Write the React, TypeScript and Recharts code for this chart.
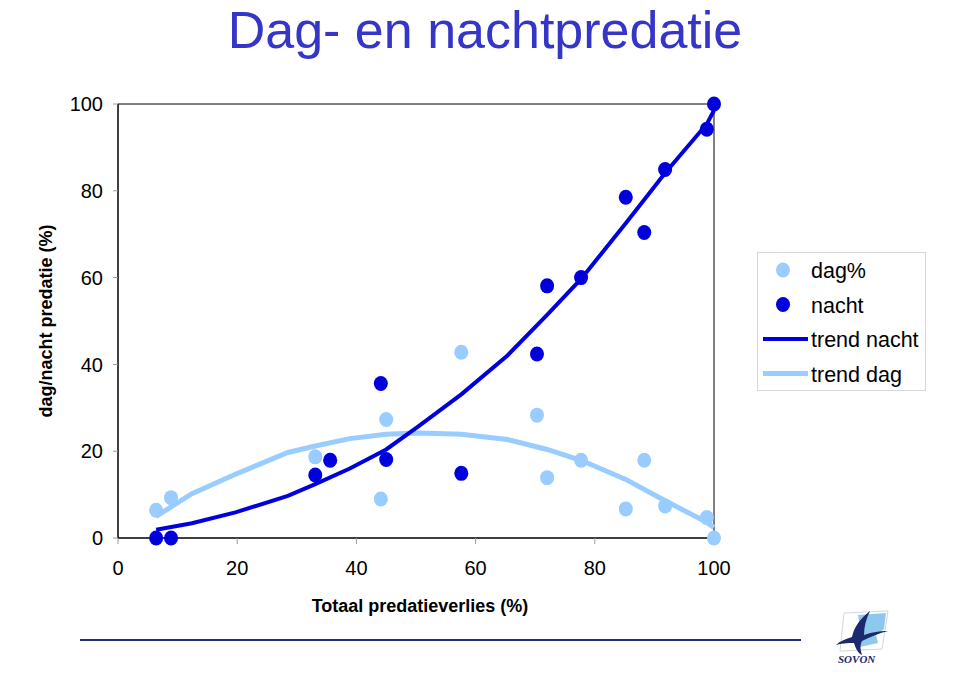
import {
  ComposedChart, Line, Scatter, XAxis, YAxis, ReferenceArea, Label,
} from 'recharts'

const DAG = '#99ccff'
const NACHT = '#0000dd'
const FONT = '"Liberation Sans", Arial, sans-serif'

// totaal predatieverlies per punt (%)
const totaal = [6.4, 8.9, 33.1, 35.6, 44.1, 45.0, 57.6, 70.3, 72.0, 77.7, 85.2, 88.3, 91.8, 98.8, 100]
const dagPct = [6.4, 9.3, 18.7, 17.9, 9.0, 27.3, 42.8, 28.3, 13.9, 17.9, 6.7, 17.9, 7.4, 4.7, 0]
const nachtPct = [0, 0, 14.5, 17.9, 35.6, 18.1, 14.9, 42.4, 58.1, 60.0, 78.5, 70.4, 84.9, 94.2, 100]

const trendX = [6.4, 12.4, 19.7, 28.5, 33.1, 38.9, 45.0, 50.4, 57.6, 65.3, 72.0, 77.7, 85.2, 91.8, 98.8, 100]
const trendNachtY = [1.9, 3.4, 5.9, 9.7, 12.4, 16.0, 20.4, 25.7, 33.1, 42.0, 51.4, 59.7, 72.5, 84.1, 95.4, 98.5]
const trendDagY = [5.0, 10.2, 14.7, 19.7, 21.2, 22.9, 23.9, 24.2, 23.9, 22.7, 20.4, 17.9, 13.5, 8.6, 3.6, 2.4]

const ticks = [0, 20, 40, 60, 80, 100]

const dagData = totaal.map((x, i) => ({ x, y: dagPct[i] }))
const nachtData = totaal.map((x, i) => ({ x, y: nachtPct[i] }))
const trendNacht = trendX.map((x, i) => ({ x, y: trendNachtY[i] }))
const trendDag = trendX.map((x, i) => ({ x, y: trendDagY[i] }))

const dot = (color: string) => (p: any) => (
  <ellipse cx={p.cx} cy={p.cy} rx={7} ry={7.5} fill={color} />
)

function LegendBox() {
  const rows = [
    { name: 'dag%', kind: 'dot', color: DAG },
    { name: 'nacht', kind: 'dot', color: NACHT },
    { name: 'trend nacht', kind: 'line', color: NACHT, w: 4 },
    { name: 'trend dag', kind: 'line', color: DAG, w: 5 },
  ]
  return (
    <svg width={169} height={139} style={{ position: 'absolute', left: 757, top: 252 }}>
      <rect x={0.5} y={0.5} width={168} height={138} fill="#fff" stroke="#d8d8d8" />
      {rows.map((r, i) => {
        const cy = 18 + i * 34.5
        return (
          <g key={r.name}>
            {r.kind === 'dot'
              ? <ellipse cx={26} cy={cy} rx={7} ry={7.5} fill={r.color} />
              : <line x1={6} x2={51} y1={cy} y2={cy} stroke={r.color} strokeWidth={r.w} />}
            <text x={54} y={cy + 8} fontSize={21.5} fontFamily={FONT} fill="#000">{r.name}</text>
          </g>
        )
      })}
    </svg>
  )
}

function Logo() {
  return (
    <svg width={70} height={70} style={{ position: 'absolute', left: 830, top: 605 }}>
      <path d="M14 8 L58 6 L52 44 L10 46 Z" fill="none" stroke="#cfd8e0" strokeWidth={1} />
      <path d="M28 10 L56 8 L54 24 L46 30 L48 38 L30 42 L24 30 L30 22 Z" fill="#8ec8ec" />
      <path d="M40 6 C30 14 24 22 22 32 C16 34 10 36 6 40 C14 38 20 38 24 38 C26 44 28 48 32 50 C30 44 30 40 32 36 C40 32 50 28 58 26 C48 26 40 28 34 30 C34 22 36 14 40 6 Z" fill="#1a2a6c" />
      <text x={8} y={58} fontSize={11} fontStyle="italic" fontWeight="bold" fontFamily="'Liberation Serif', serif" fill="#1a2a6c">SOVON</text>
    </svg>
  )
}

export default function App() {
  return (
    <div style={{ position: 'absolute', left: 0, top: 0, width: 960, height: 700, background: '#fff', fontFamily: FONT, overflow: 'hidden' }}>
      <div style={{ position: 'absolute', left: 10, top: 0, width: 950, textAlign: 'center', fontSize: 52, lineHeight: 'normal', color: '#3535c8' }}>
        Dag- en nachtpredatie
      </div>
      <ComposedChart width={960} height={700} margin={{ top: 104, right: 246, bottom: 122, left: 18 }}>
        <XAxis
          type="number" dataKey="x" domain={[0, 100]} ticks={ticks}
          axisLine={{ stroke: '#000' }} tickLine={{ stroke: '#999' }} tickSize={6} tickMargin={17}
          tick={{ fontSize: 20, fill: '#000', fontFamily: FONT }} height={40}
        >
          <Label content={() => (
            <text x={420} y={612} textAnchor="middle" fontSize={18} fontWeight="bold" fontFamily={FONT} fill="#000">
              Totaal predatieverlies (%)
            </text>
          )} />
        </XAxis>
        <YAxis
          type="number" dataKey="y" domain={[0, 100]} ticks={ticks}
          axisLine={{ stroke: '#000' }} tickLine={{ stroke: '#999' }} tickSize={5} tickMargin={10}
          tick={{ fontSize: 20, fill: '#000', fontFamily: FONT }} width={100}
        >
          <Label content={() => (
            <text x={52} y={321} transform="rotate(-90 52 321)" textAnchor="middle" fontSize={18} fontWeight="bold" fontFamily={FONT} fill="#000">
              dag/nacht predatie (%)
            </text>
          )} />
        </YAxis>
        <ReferenceArea x1={0} x2={100} y1={0} y2={100} fill="none" stroke="#000" strokeWidth={1} />
        <Line data={trendDag} dataKey="y" type="linear" stroke={DAG} strokeWidth={5} dot={false} activeDot={false} isAnimationActive={false} name="trend dag" />
        <Line data={trendNacht} dataKey="y" type="linear" stroke={NACHT} strokeWidth={4} dot={false} activeDot={false} isAnimationActive={false} name="trend nacht" />
        <Scatter data={dagData} fill={DAG} shape={dot(DAG)} isAnimationActive={false} name="dag%" />
        <Scatter data={nachtData} fill={NACHT} shape={dot(NACHT)} isAnimationActive={false} name="nacht" />
      </ComposedChart>
      <LegendBox />
      <div style={{ position: 'absolute', left: 80, top: 639, width: 721, height: 2, background: '#24306e' }} />
      <Logo />
    </div>
  )
}
